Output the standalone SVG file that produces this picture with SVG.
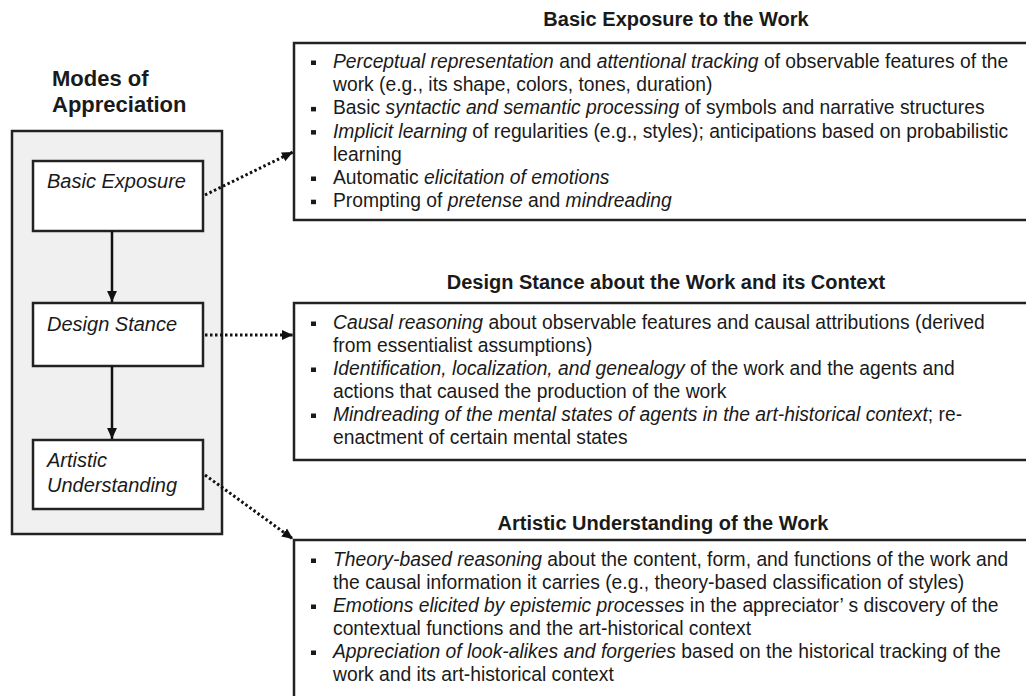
<svg xmlns="http://www.w3.org/2000/svg" width="1026" height="696" viewBox="0 0 1026 696">
<style>
  text { font-family: "Liberation Sans", Arial, sans-serif; fill: #1a1a1a; }
  .body { font-size: 19.3px; }
  .i { font-style: italic; }
  .title { font-size: 20px; font-weight: bold; text-anchor: middle; }
  .head { font-size: 22px; font-weight: bold; }
  .lbl { font-size: 20px; font-style: italic; }
  .box { fill: #ffffff; stroke: #222222; stroke-width: 2.5; }
  .outer { fill: #f0f0f0; stroke: #222222; stroke-width: 2.5; }
  .solid { stroke: #111111; stroke-width: 2.5; fill: none; }
  .dot { stroke: #111111; stroke-width: 3; fill: none; stroke-dasharray: 2.5 2.5; }
  .bul { fill: #1a1a1a; }
</style>
<defs>
  <marker id="ah" viewBox="0 0 10 10" refX="10" refY="5" markerWidth="11" markerHeight="11" markerUnits="userSpaceOnUse" orient="auto">
    <path d="M0,0.5 L10,5 L0,9.5 z" fill="#111111"/>
  </marker>
  <marker id="ahd" viewBox="0 0 10 10" refX="10" refY="5" markerWidth="11" markerHeight="11" markerUnits="userSpaceOnUse" orient="auto">
    <path d="M0,0.5 L10,5 L0,9.5 z" fill="#111111"/>
  </marker>
</defs>

<g id="modes">
  <text class="head" x="52" y="86">Modes of</text>
  <text class="head" x="52" y="112">Appreciation</text>
  <rect class="outer" x="12" y="131" width="210" height="403"/>
</g>

<g id="basic-exposure">
  <rect class="box" x="33" y="161" width="170" height="70"/>
  <text class="lbl" x="47" y="188">Basic Exposure</text>
</g>

<g id="design-stance">
  <rect class="box" x="33" y="303" width="170" height="63"/>
  <text class="lbl" x="47" y="331">Design Stance</text>
</g>

<g id="artistic-understanding">
  <rect class="box" x="33" y="440" width="170" height="69"/>
  <text class="lbl" x="47" y="467">Artistic</text>
  <text class="lbl" x="47" y="492">Understanding</text>
</g>

<g id="exposure-details">
  <text class="title" x="676" y="26">Basic Exposure to the Work</text>
  <rect class="box" x="294" y="43" width="740" height="177"/>
  <g class="body">
    <rect class="bul" x="311" y="60.5" width="5" height="4.5"/>
    <text x="333" y="68"><tspan class="i">Perceptual representation</tspan> and <tspan class="i">attentional tracking</tspan> of observable features of the</text>
    <text x="333" y="91.2">work (e.g., its shape, colors, tones, duration)</text>
    <rect class="bul" x="311" y="106.9" width="5" height="4.5"/>
    <text x="333" y="114.4">Basic <tspan class="i">syntactic and semantic processing</tspan> of symbols and narrative structures</text>
    <rect class="bul" x="311" y="130.1" width="5" height="4.5"/>
    <text x="333" y="137.6"><tspan class="i">Implicit learning</tspan> of regularities (e.g., styles); anticipations based on probabilistic</text>
    <text x="333" y="160.8">learning</text>
    <rect class="bul" x="311" y="176.5" width="5" height="4.5"/>
    <text x="333" y="184">Automatic <tspan class="i">elicitation of emotions</tspan></text>
    <rect class="bul" x="311" y="199.7" width="5" height="4.5"/>
    <text x="333" y="207.2">Prompting of <tspan class="i">pretense</tspan> and <tspan class="i">mindreading</tspan></text>
  </g>
</g>

<g id="design-details">
  <text class="title" x="666" y="289">Design Stance about the Work and its Context</text>
  <rect class="box" x="294" y="303" width="740" height="157"/>
  <g class="body">
    <rect class="bul" x="311" y="321.5" width="5" height="4.5"/>
    <text x="333" y="329"><tspan class="i">Causal reasoning</tspan> about observable features and causal attributions (derived</text>
    <text x="333" y="352">from essentialist assumptions)</text>
    <rect class="bul" x="311" y="367.5" width="5" height="4.5"/>
    <text x="333" y="375"><tspan class="i">Identification, localization, and genealogy</tspan> of the work and the agents and</text>
    <text x="333" y="398">actions that caused the production of the work</text>
    <rect class="bul" x="311" y="413.5" width="5" height="4.5"/>
    <text x="333" y="421"><tspan class="i">Mindreading of the mental states of agents in the art-historical context</tspan>; re-</text>
    <text x="333" y="444">enactment of certain mental states</text>
  </g>
</g>

<g id="artistic-details">
  <text class="title" x="663" y="530">Artistic Understanding of the Work</text>
  <rect class="box" x="294" y="540" width="740" height="170"/>
  <g class="body">
    <rect class="bul" x="311" y="558.5" width="5" height="4.5"/>
    <text x="333" y="566"><tspan class="i">Theory-based reasoning</tspan> about the content, form, and functions of the work and</text>
    <text x="333" y="589">the causal information it carries (e.g., theory-based classification of styles)</text>
    <rect class="bul" x="311" y="604.5" width="5" height="4.5"/>
    <text x="333" y="612"><tspan class="i">Emotions elicited by epistemic processes</tspan> in the appreciator’ s discovery of the</text>
    <text x="333" y="635">contextual functions and the art-historical context</text>
    <rect class="bul" x="311" y="650.5" width="5" height="4.5"/>
    <text x="333" y="658"><tspan class="i">Appreciation of look-alikes and forgeries</tspan> based on the historical tracking of the</text>
    <text x="333" y="681">work and its art-historical context</text>
  </g>
</g>

<g id="connectors">
  <line class="solid" x1="112" y1="231" x2="112" y2="302" marker-end="url(#ah)"/>
  <line class="solid" x1="112" y1="366" x2="112" y2="439" marker-end="url(#ah)"/>
  <line class="dot" x1="205" y1="195" x2="293" y2="152" marker-end="url(#ahd)"/>
  <line class="dot" x1="205" y1="335" x2="293" y2="335" marker-end="url(#ahd)"/>
  <line class="dot" x1="205" y1="475" x2="293" y2="539" marker-end="url(#ahd)"/>
</g>
</svg>
